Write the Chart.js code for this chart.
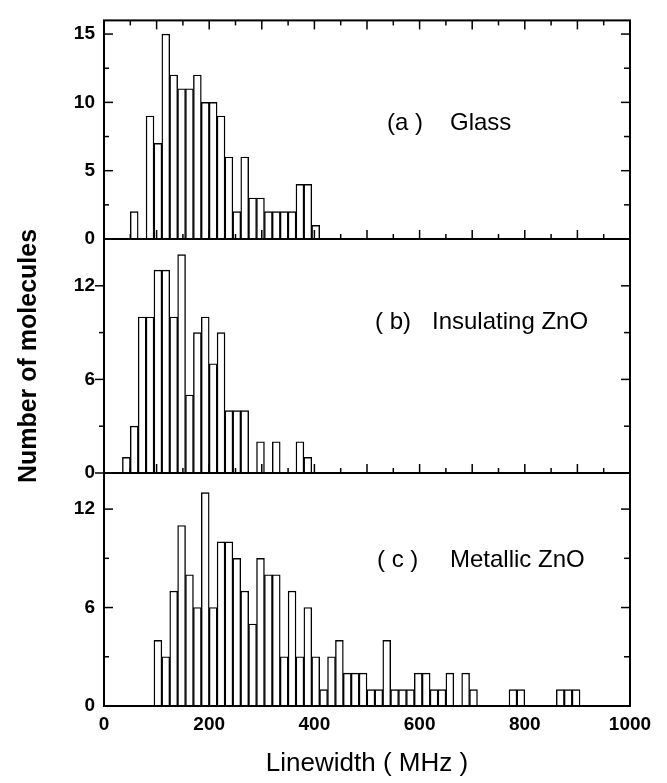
<!DOCTYPE html>
<html>
<head>
<meta charset="utf-8">
<script src="https://cdn.jsdelivr.net/npm/chart.js@4.4.1/dist/chart.umd.min.js"></script>
<style>
  html, body { margin: 0; padding: 0; background: #fff; }
  #wrap { position: relative; width: 667px; height: 783px; }
  #wrap canvas { position: absolute; left: 0; top: 0; }
</style>
</head>
<body>
<div id="wrap">
  <canvas id="panelA" width="667" height="783"></canvas>
  <canvas id="panelB" width="667" height="783"></canvas>
  <canvas id="panelC" width="667" height="783"></canvas>
</div>
<script>
// histogram bin centres (MHz), 15 MHz bins
const glassBins = [57.5, 72.5, 87.5, 102.5, 117.5, 132.5, 147.5, 162.5, 177.5, 192.5, 207.5, 222.5,
  237.5, 252.5, 267.5, 282.5, 297.5, 312.5, 327.5, 342.5, 357.5, 372.5, 387.5, 402.5];
const glassCounts = [2, 0, 9, 7, 15, 12, 11, 11, 12, 10, 10, 9, 6, 2, 6, 3, 3, 2, 2, 2, 2, 4, 4, 1];

const insulBins = [42.5, 57.5, 72.5, 87.5, 102.5, 117.5, 132.5, 147.5, 162.5, 177.5, 192.5, 207.5,
  222.5, 237.5, 252.5, 267.5, 282.5, 297.5, 312.5, 327.5, 342.5, 357.5, 372.5, 387.5];
const insulCounts = [1, 3, 10, 10, 13, 13, 10, 14, 5, 9, 10, 7, 9, 4, 4, 4, 0, 2, 0, 2, 0, 0, 2, 1];

const metalBins = [102.5, 117.5, 132.5, 147.5, 162.5, 177.5, 192.5, 207.5, 222.5, 237.5,
  252.5, 267.5, 282.5, 297.5, 312.5, 327.5, 342.5, 357.5, 372.5, 387.5,
  402.5, 417.5, 432.5, 447.5, 462.5, 477.5, 492.5, 507.5, 522.5, 537.5,
  552.5, 567.5, 582.5, 597.5, 612.5, 627.5, 642.5, 657.5, 672.5, 687.5,
  702.5, 717.5, 732.5, 747.5, 762.5, 777.5, 792.5, 807.5, 822.5, 837.5,
  852.5, 867.5, 882.5, 897.5];
const metalCounts = [4, 3, 7, 11, 8, 6, 13, 6, 10, 10, 9, 7, 5, 9, 8, 8, 3, 7, 3, 6,
  3, 1, 3, 4, 2, 2, 2, 1, 1, 4, 1, 1, 1, 2, 2, 1, 1, 2, 0, 2,
  1, 0, 0, 0, 0, 1, 1, 0, 0, 0, 0, 1, 1, 1];

const xTicks = [0, 200, 400, 600, 800, 1000];
const glassTicks = [0, 5, 10, 15];
const znoTicks = [0, 6, 12];

const FONT = "'Liberation Sans', Arial, Helvetica, sans-serif";
Chart.defaults.font.family = FONT;
Chart.defaults.color = '#000';

// frame, inward ticks and panel caption
const framePlugin = {
  id: 'frame',
  afterDraw(chart, args, o) {
    const { ctx, chartArea: a } = chart;
    const x = chart.scales.x, y = chart.scales.y;
    ctx.save();
    ctx.strokeStyle = '#000';
    ctx.lineCap = 'butt';
    const seg = (x0, y0, x1, y1) => { ctx.beginPath(); ctx.moveTo(x0, y0); ctx.lineTo(x1, y1); ctx.stroke(); };

    ctx.lineWidth = 1.5;
    o.yMajor.forEach(v => {
      const py = y.getPixelForValue(v);
      seg(a.left, py, a.left + o.leftDir * 9, py);
      seg(a.right, py, a.right - 9, py);
    });
    o.yMinor.forEach(v => {
      const py = y.getPixelForValue(v);
      seg(a.left, py, a.left + o.leftDir * 5, py);
      seg(a.right, py, a.right - 6, py);
    });
    for (let v = 50; v < 1000; v += 50) {
      const px = x.getPixelForValue(v);
      const len = v % 100 === 0 ? 9 : 5;
      if (o.xTop) seg(px, a.top, px, a.top + len);
      if (o.xBottom) seg(px, a.bottom, px, a.bottom - len);
    }

    ctx.lineWidth = 2;
    ctx.strokeRect(a.left, a.top, a.right - a.left, a.bottom - a.top);

    ctx.fillStyle = '#000';
    ctx.font = '24px ' + FONT;
    ctx.textBaseline = 'middle';
    ctx.fillText(o.tag, o.tagX, o.tagY);
    ctx.fillText(o.name, o.nameX, o.nameY);
    ctx.restore();
  }
};

function panel(id, bins, counts, yMax, yTicks, pad, extra) {
  const isBottom = !!extra.isBottom;
  return new Chart(document.getElementById(id), {
    type: 'bar',
    data: {
      datasets: [{
        data: bins.map((b, i) => ({ x: b, y: counts[i] })),
        backgroundColor: '#fff',
        borderColor: '#000',
        borderWidth: 1.4,
        barPercentage: 1,
        categoryPercentage: 1
      }]
    },
    options: {
      responsive: false,
      animation: false,
      events: [],
      layout: { padding: pad },
      plugins: {
        legend: { display: false },
        tooltip: { enabled: false },
        frame: extra.frame
      },
      scales: {
        x: {
          type: 'linear',
          min: 0,
          max: 1000,
          offset: false,
          display: isBottom,
          grid: { display: false, drawTicks: false },
          border: { display: false },
          afterBuildTicks: s => { s.ticks = xTicks.map(v => ({ value: v })); },
          afterFit: s => { s.height = isBottom ? 77 : 0; },
          ticks: {
            font: { size: 19, weight: 'bold' },
            padding: 7,
            maxRotation: 0,
            autoSkip: false,
            callback: v => String(v)
          },
          title: {
            display: isBottom,
            text: 'Linewidth ( MHz )',
            font: { size: 26 },
            padding: { top: 6, bottom: 4 }
          }
        },
        y: {
          min: 0,
          max: yMax,
          grid: { display: false, drawTicks: false },
          border: { display: false },
          afterBuildTicks: s => { s.ticks = yTicks.map(v => ({ value: v })); },
          afterFit: s => { s.width = 104; },
          ticks: { font: { size: 19, weight: 'bold' }, padding: 9 },
          title: {
            display: !!extra.yTitle,
            text: 'Number of molecules',
            font: { size: 25, weight: 'bold' },
            padding: { top: 14, bottom: 0 }
          }
        }
      }
    },
    plugins: [framePlugin]
  });
}

panel('panelA', glassBins, glassCounts, 16, glassTicks,
  { top: 6, bottom: 544, left: 0, right: 37 },
  { frame: { yMajor: [0, 5, 10, 15], yMinor: [2.5, 7.5, 12.5], leftDir: 1, xTop: true, xBottom: true,
      tag: '(a )', tagX: 387, tagY: 123, name: 'Glass', nameX: 450, nameY: 123 } });

panel('panelB', insulBins, insulCounts, 15, znoTicks,
  { top: 239, bottom: 310, left: 0, right: 37 },
  { yTitle: true,
    frame: { yMajor: [0, 6, 12], yMinor: [3, 9], leftDir: -1, xTop: false, xBottom: true,
      tag: '( b)', tagX: 375, tagY: 322, name: 'Insulating ZnO', nameX: 432, nameY: 322 } });

panel('panelC', metalBins, metalCounts, 14.2, znoTicks,
  { top: 473, bottom: 0, left: 0, right: 37 },
  { isBottom: true,
    frame: { yMajor: [0, 6, 12], yMinor: [3, 9], leftDir: 1, xTop: false, xBottom: false,
      tag: '( c )', tagX: 377, tagY: 560, name: 'Metallic ZnO', nameX: 450, nameY: 560 } });
</script>
</body>
</html>
